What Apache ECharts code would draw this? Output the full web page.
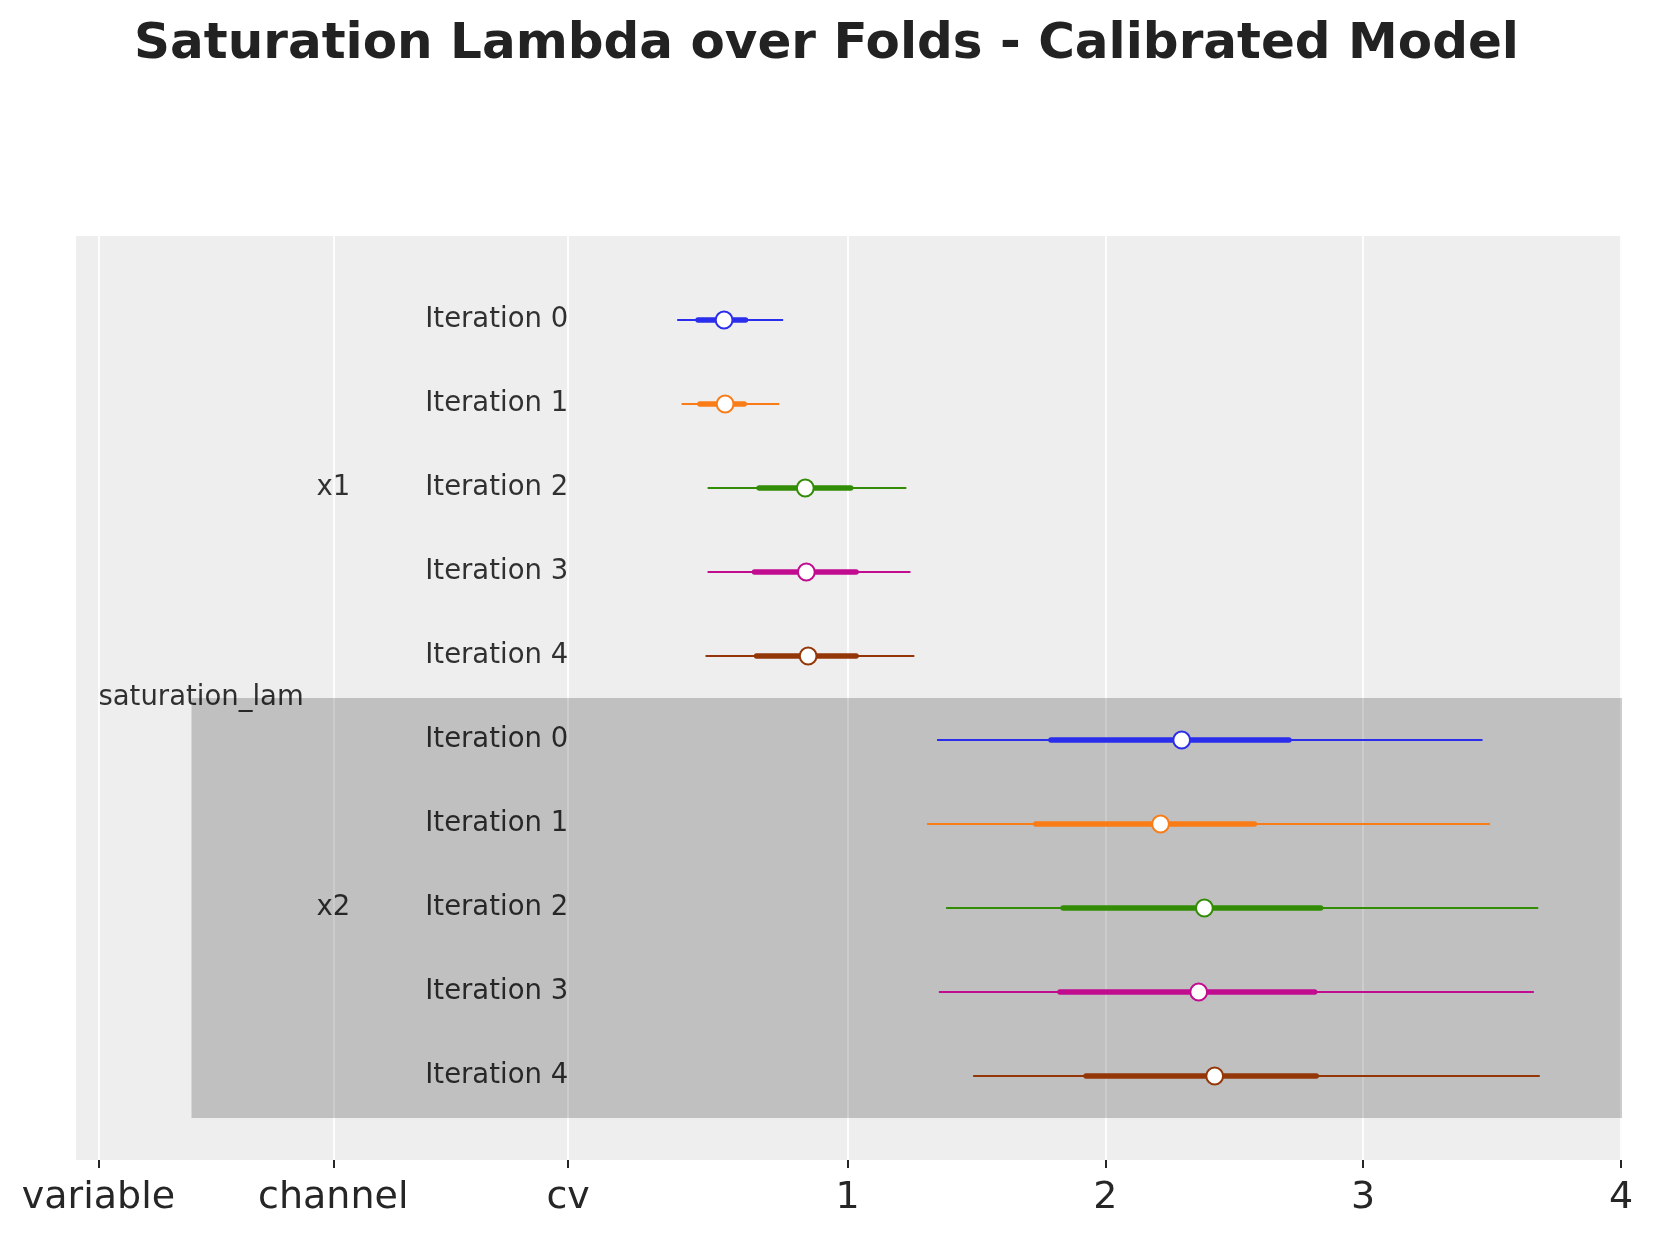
<!DOCTYPE html>
<html>
<head>
<meta charset="UTF-8">
<title>Saturation Lambda over Folds</title>
<script src="https://cdn.jsdelivr.net/npm/echarts@6/dist/echarts.min.js"></script>
<style>
  * {margin: 0; padding: 0;}
  html, body {width: 100%; height: 100%; background: #fff;}
  #chart {width: 1653px; height: 1236px;}
</style>
</head>
<body>
<div id="chart"></div>
<script>
// forest plot data: hdi 94% (thin), hdi 50% (thick), median, per fold
var iterations = ['Iteration 0', 'Iteration 1', 'Iteration 2', 'Iteration 3', 'Iteration 4'];
var channels = ['x1', 'x2'];
var colors = ['#2a2eec', '#fa7c17', '#328c06', '#c10c90', '#933708'];

var x1Lo94 = [0.339, 0.356, 0.457, 0.457, 0.449];
var x1Lo50 = [0.420, 0.427, 0.657, 0.639, 0.647];
var x1Mid  = [0.521, 0.525, 0.836, 0.840, 0.847];
var x1Hi50 = [0.604, 0.599, 1.012, 1.033, 1.033];
var x1Hi94 = [0.750, 0.735, 1.228, 1.244, 1.259];

var x2Lo94 = [1.347, 1.308, 1.382, 1.354, 1.487];
var x2Lo50 = [1.789, 1.730, 1.836, 1.824, 1.925];
var x2Mid  = [2.296, 2.214, 2.384, 2.362, 2.424];
var x2Hi50 = [2.712, 2.578, 2.835, 2.812, 2.818];
var x2Hi94 = [3.463, 3.492, 3.679, 3.662, 3.685];

// label columns on the x axis (where arviz puts them)
var labelCols = ['variable', 'channel', 'cv'];
var labelColPos = [-1.906, -0.995, -0.084];
var numTicks = [1, 2, 3, 4];

var chart = echarts.init(document.getElementById('chart'));

// one custom series per iteration, rows x1 then x2
var series = [];
iterations.forEach(function (name, i) {
  series.push({
    name: name,
    type: 'custom',
    z: 5,
    data: [
      [x1Lo94[i], x1Lo50[i], x1Mid[i], x1Hi50[i], x1Hi94[i], i],
      [x2Lo94[i], x2Lo50[i], x2Mid[i], x2Hi50[i], x2Hi94[i], i + 5]
    ],
    encode: {x: [0, 4], y: 5},
    renderItem: function (params, api) {
      var y = api.value(5);
      var a = api.coord([api.value(0), y]);
      var b = api.coord([api.value(1), y]);
      var m = api.coord([api.value(2), y]);
      var c = api.coord([api.value(3), y]);
      var d = api.coord([api.value(4), y]);
      var col = colors[i];
      return {
        type: 'group',
        children: [
          {type: 'line', shape: {x1: a[0], y1: a[1], x2: d[0], y2: d[1]},
           style: {stroke: col, lineWidth: 2}},
          {type: 'line', shape: {x1: b[0], y1: b[1], x2: c[0], y2: c[1]},
           style: {stroke: col, lineWidth: 5.5, lineCap: 'round'}},
          {type: 'circle', shape: {cx: m[0], cy: m[1], r: 8.4},
           style: {fill: '#ffffff', stroke: col, lineWidth: 2}}
        ]
      };
    }
  });
});

// text labels inside the plot
var labelData = [];
for (var r = 0; r < 10; r++) {
  labelData.push({value: [labelColPos[2], r], label: {formatter: iterations[r % 5], align: 'right'}});
}
labelData.push({value: [labelColPos[1], 2], label: {formatter: channels[0], align: 'center'}});
labelData.push({value: [labelColPos[1], 7], label: {formatter: channels[1], align: 'center'}});
labelData.push({value: [labelColPos[0], 4.5], label: {formatter: 'saturation_lam', align: 'left'}});

series.push({
  type: 'scatter',
  symbolSize: 1,
  itemStyle: {color: 'transparent'},
  silent: true,
  z: 4,
  label: {
    show: true,
    position: 'inside',
    verticalAlign: 'middle',
    fontFamily: 'DejaVu Sans',
    fontSize: 27.5,
    color: '#000000'
  },
  data: labelData,
  // shaded block behind the second channel
  markArea: {
    silent: true,
    itemStyle: {color: 'rgba(0,0,0,0.193)'},
    data: [[{xAxis: -1.545, yAxis: 4.5}, {xAxis: 4.004, yAxis: 9.5}]]
  }
});

var allTicks = labelColPos.concat(numTicks);

var option = {
  animation: false,
  backgroundColor: '#ffffff',
  title: {
    text: 'Saturation Lambda over Folds - Calibrated Model',
    left: 'center',
    top: 15,
    textStyle: {fontFamily: 'DejaVu Sans', fontSize: 50, fontWeight: 'bold', color: '#222222'}
  },
  grid: {
    left: 76, right: 31, top: 236, bottom: 76,
    show: true, backgroundColor: '#eeeeee', borderWidth: 0
  },
  xAxis: {
    type: 'value',
    min: -1.993,
    max: 4.004,
    axisLine: {show: false, onZero: false},
    axisTick: {show: true, length: 8, customValues: allTicks, lineStyle: {color: '#262626', width: 2}},
    axisLabel: {
      customValues: allTicks,
      margin: 19,
      fontFamily: 'DejaVu Sans',
      fontSize: 38,
      color: '#262626',
      formatter: function (v) {
        for (var k = 0; k < labelColPos.length; k++) {
          if (Math.abs(v - labelColPos[k]) < 1e-6) return labelCols[k];
        }
        return String(Math.round(v));
      }
    },
    splitLine: {show: true, lineStyle: {color: '#ffffff', width: 1.7}}
  },
  yAxis: {
    type: 'value',
    inverse: true,
    min: -1,
    max: 10,
    axisLine: {show: false},
    axisTick: {show: false},
    axisLabel: {show: false},
    splitLine: {show: false}
  },
  series: series
};

chart.setOption(option);
</script>
</body>
</html>
